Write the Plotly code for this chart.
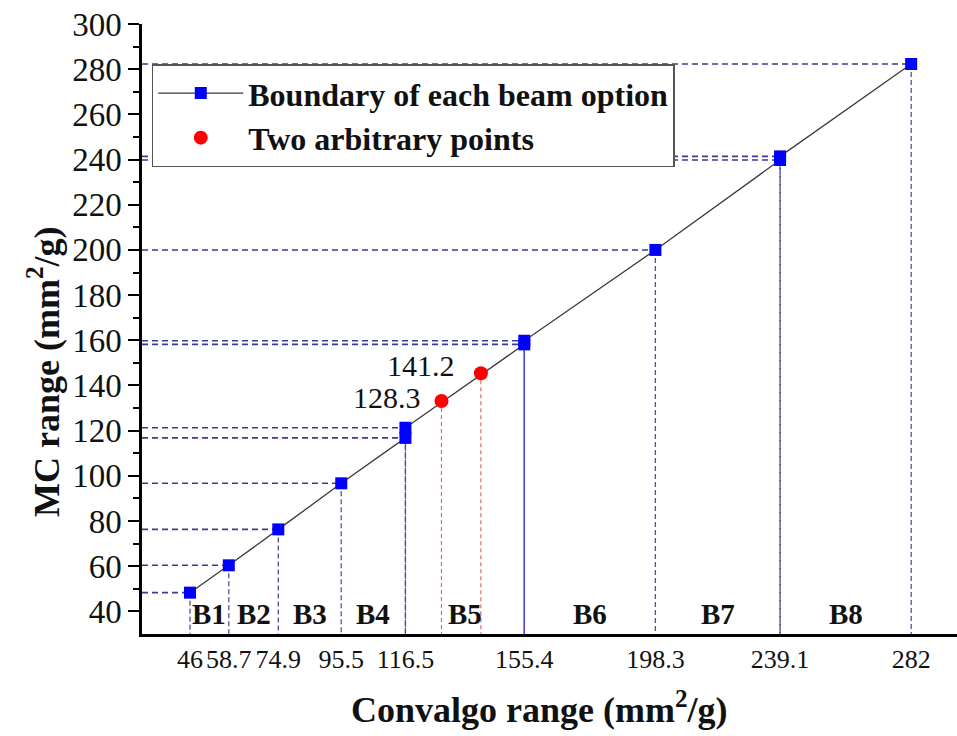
import plotly.graph_objects as go

# ---- data ----
conv_boundary = [46, 58.7, 74.9, 95.5, 116.5, 116.5, 155.4, 155.4, 198.3, 239.1, 239.1, 282]
mc_boundary = [48.3, 60.4, 76.3, 96.7, 116.8, 121.3, 158.2, 159.8, 200.0, 239.8, 241.4, 282.3]
arb_conv = [128.3, 141.2]
arb_mc = [133.1, 145.4]
arb_labels = ["128.3", "141.2"]
x_ticks = [46, 58.7, 74.9, 95.5, 116.5, 155.4, 198.3, 239.1, 282]
x_ticktext = ["46", "58.7", "74.9", "95.5", "116.5", "155.4", "198.3", "239.1", "282"]
beam_labels = ["B1", "B2", "B3", "B4", "B5", "B6", "B7", "B8"]
solid_drop = [155.4]

X_RANGE = [30.3, 297]
Y_RANGE = [30, 300]
SERIF = "Liberation Serif"

fig = go.Figure()

# horizontal dashed guide lines (axis -> point)
hx, hy = [], []
for xv, yv in zip(conv_boundary, mc_boundary):
    hx += [X_RANGE[0], xv, None]
    hy += [yv, yv, None]
fig.add_trace(go.Scatter(x=hx, y=hy, mode="lines", showlegend=False, hoverinfo="skip",
                         line=dict(color="#3c3c92", width=1.6, dash="6px,4px")))

# vertical dashed drop lines (point -> axis)
vx, vy, sx, sy = [], [], [], []
for xv, yv in zip(conv_boundary, mc_boundary):
    if xv in solid_drop:
        sx += [xv, xv, None]
        sy += [yv, Y_RANGE[0], None]
    else:
        vx += [xv, xv, None]
        vy += [yv, Y_RANGE[0], None]
fig.add_trace(go.Scatter(x=vx, y=vy, mode="lines", showlegend=False, hoverinfo="skip",
                         line=dict(color="#50509a", width=1.3, dash="5px,3px")))
fig.add_trace(go.Scatter(x=sx, y=sy, mode="lines", showlegend=False, hoverinfo="skip",
                         line=dict(color="#4848c8", width=1.3)))

# red drop lines
rx, ry = [], []
for xv, yv in zip(arb_conv, arb_mc):
    rx += [xv, xv, None]
    ry += [yv, Y_RANGE[0], None]
fig.add_trace(go.Scatter(x=rx, y=ry, mode="lines", showlegend=False, hoverinfo="skip",
                         line=dict(color="#e06a6a", width=1.2, dash="4px,3px")))

# main series
fig.add_trace(go.Scatter(x=conv_boundary, y=mc_boundary, mode="lines+markers",
                         name="Boundary of each beam option",
                         line=dict(color="#3a3a3a", width=1.3),
                         marker=dict(symbol="square", size=12, color="#0000ff")))
fig.add_trace(go.Scatter(x=arb_conv, y=arb_mc, mode="markers",
                         name="Two arbitrary points",
                         marker=dict(symbol="circle", size=14, color="#ff0000")))

annotations = []
# labels of the arbitrary points
for xv, yv, t, dx, dy in zip(arb_conv, arb_mc, arb_labels, [-18, -24], [4, 8]):
    annotations.append(dict(x=xv, y=yv, text=t, showarrow=False, xanchor="right", yanchor="middle",
                            xshift=dx, yshift=dy, font=dict(family=SERIF, size=30, color="#111")))
# beam labels between boundaries
for i, lab in enumerate(beam_labels):
    xm = (x_ticks[i] + x_ticks[i + 1]) / 2
    annotations.append(dict(x=xm, y=Y_RANGE[0], text="<b>%s</b>" % lab, showarrow=False,
                            xanchor="center", yanchor="bottom", yshift=2,
                            font=dict(family=SERIF, size=29, color="#111")))
# axis titles
annotations.append(dict(xref="paper", yref="paper", x=0.488, y=-0.12, text="<b>Convalgo range (mm<sup>2</sup>/g)</b>",
                        showarrow=False, xanchor="center", yanchor="middle",
                        font=dict(family=SERIF, size=36, color="#111")))
annotations.append(dict(xref="paper", yref="paper", x=-0.12, y=0.43, text="<b>MC range (mm<sup>2</sup>/g)</b>",
                        showarrow=False, xanchor="center", yanchor="middle", textangle=-90,
                        font=dict(family=SERIF, size=36, color="#111")))

fig.update_layout(
    width=957, height=736,
    margin=dict(l=142, r=0, t=24, b=102),
    paper_bgcolor="white", plot_bgcolor="white",
    font=dict(family=SERIF, color="#111"),
    annotations=annotations,
    legend=dict(x=0.012, y=0.934, xanchor="left", yanchor="top",
                bgcolor="white", bordercolor="#555", borderwidth=1.5,
                font=dict(family=SERIF, size=32, color="#111", weight="bold"),
                itemwidth=85, tracegroupgap=0),
    xaxis=dict(range=X_RANGE, tickvals=x_ticks, ticktext=x_ticktext, ticks="", tickangle=0,
               showline=True, linecolor="black", linewidth=2.5, showgrid=False, zeroline=False,
               tickfont=dict(family=SERIF, size=26, color="#111")),
    yaxis=dict(range=Y_RANGE, tickvals=list(range(40, 301, 20)), ticks="outside", ticklen=11,
               tickwidth=2, tickcolor="black",
               minor=dict(tickvals=list(range(50, 300, 20)), ticks="outside", ticklen=6, tickwidth=2,
                          tickcolor="black"),
               showline=True, linecolor="black", linewidth=2.5, showgrid=False, zeroline=False,
               tickfont=dict(family=SERIF, size=33, color="#111")),
)

fig.write_html("out.html")
